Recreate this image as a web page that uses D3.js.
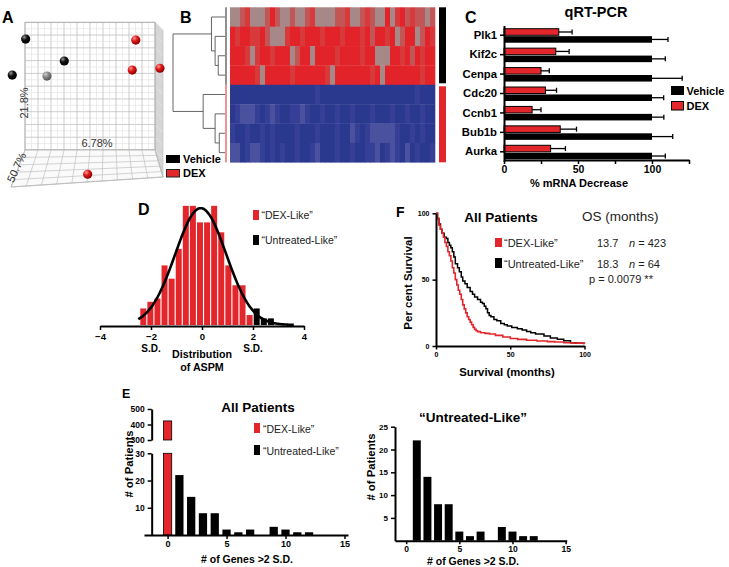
<!DOCTYPE html>
<html><head><meta charset="utf-8">
<script src="https://cdn.jsdelivr.net/npm/d3@7"></script>
<style>body{margin:0;background:#fff}svg{display:block}</style>
</head><body><svg id="c" width="729" height="567"></svg>
<script>
// ---------------- DATA ----------------
// Panel A: PCA samples (position on PC axes, in grid units of the box)
const pcaGroup = ["Vehicle","Vehicle","Vehicle","Vehicle","DEX","DEX","DEX","DEX"];
const pcaPC1   = [0.05, -0.98, 1.69, 3.02, 8.52, 8.25, 10.38, 4.82];
const pcaPC2   = [8.69, 5.87, 5.79, 6.97, 8.61, 6.26, 6.40, -1.90];
const pcaDepth = [0, 0, 1, 0, 0, 0, 0, 0];
const pcaLabels = ["21.8%", "6.78%", "50.7%"];
// Panel B: heatmap rows (intensity levels per gene column), row groups, dendrogram merges
const heatGroups = ["Vehicle","Vehicle","Vehicle","Vehicle","DEX","DEX","DEX","DEX"];
const heatRows = [
  "33213332023323321333322133212330310212232",
  "01001102333100100010001000102001032003201",
  "00013100100032003000010000100333001020100",
  "00000130000010000001300000001030000000100",
  "00000000000000000100000000000000000001000",
  "01222101210011210010010010001000100100100",
  "10010010100001000100010021012222210010100",
  "22012210101001001200010010011201210201001"
];
const dendroMerges = [[2,3,1.3],[1,8,1.9],[0,9,2.6],[6,7,1.1],[5,11,1.9],[4,12,4.2],[10,13,10]];
// Panel C: qRT-PCR
const genes = ["Plk1","Kif2c","Cenpa","Cdc20","Ccnb1","Bub1b","Aurka"];
const dexValues = [37, 35, 25, 28, 19, 38, 31.5];
const dexErrors = [9, 9, 5.6, 7.5, 6, 11, 10];
const vehValues = [100, 100, 100, 100, 100, 100, 100];
const vehErrors = [10.8, 9, 20.4, 7.9, 8, 14, 9];
const pcrTicks = [0, 50, 100];
// Panel D: ASPM distribution histogram
const aspmBinStart = -2.44, aspmBinWidth = 0.278;
const aspmCounts = [5,7,8,18,14,23,36,36,31,31,36,28,18,12,12,3,5,2,2];
const aspmFit = {mean: -0.05, sd: 1.0, peak: 35.3, from: -2.5, to: 3.6};
const aspmTicks = [-4,-2,0,2,4];
// Panel F: Kaplan-Meier
const dexT = [0,1,2,3,4,5,6,7,8,9,10,11,12,13,14,15,16,17,18,19,20,21,22,23,24,25,26,27,28,30,33,36,40,45,50,55,61,68,75,80,86,92,100];
const dexS = [100,96,91,88,85,82,78,75,71,68,64,59,55,50,46,42,39,35,31,28,25,22,20,18,16,14,12.5,11.5,10.8,10,9.5,9,8,6.8,5.6,5,4.3,3.8,3.3,3,2.5,2.2,1.8];
const untT = [0,1,2,3,4,5.5,7,8,9,10,11,12,13,14.5,15.7,17,18,19.5,21,23,24.6,26,28,30,31.3,32.5,33.6,34.7,35.8,37,39,41,43.6,46,48,51,54.8,58,61,63.8,67,72.7,77,81.7,86,90.6,95,99.5];
const untS = [100,96,92,88,85,82,81,78,76,74,71,67,62,59,56,52,49,47,44,41,39,37,35,33,32,30,28,25,23,22,20,19,17,16,15,14,13,12,11,10,9,7.6,6,5,4,2.5,2,1.3];
const osMonths = [13.7, 18.3];
const osN = [423, 64];
const pValue = "0.0079";
// Panel E: number of genes >2 S.D. per patient
const genesOver = [0,1,2,3,4,5,6,7,8,9,10,11,12];
const patientCounts = [423,22,14,8,8,2,1,2,0,3,2,1,1];

// ---------------- DRAW ----------------
const FONT = '"Liberation Sans", Arial, Helvetica, sans-serif';
const RED = "#e2262b";
const svg = d3.select("#c");
svg.append("rect").attr("width",729).attr("height",567).attr("fill","#fff");
const defs = svg.append("defs");

function txt(g, s, x, y, o) {
  o = o || {};
  const t = g.append("text").attr("x",x).attr("y",y).text(s)
    .attr("font-family",FONT).attr("font-size",o.size||11)
    .attr("font-weight",o.bold?"bold":"normal").attr("fill",o.fill||"#111")
    .attr("text-anchor",o.anchor||"start");
  if (o.rotate!==undefined) t.attr("transform",`rotate(${o.rotate},${x},${y})`);
  return t;
}
function styleAxis(g, fs, sw) {
  g.selectAll("path.domain").attr("stroke","#000").attr("stroke-width",sw||2);
  g.selectAll(".tick line").attr("stroke","#000").attr("stroke-width",1.5);
  g.selectAll(".tick text").attr("font-family",FONT).attr("font-weight","bold")
    .attr("font-size",fs).attr("fill","#000");
}
function letter(s,x,y,size){ txt(svg,s,x,y,{size:size||16,bold:true,fill:"#000"}); }

// ===== Panel A =====
(function(){
  const g = svg.append("g");
  const wx = d3.scaleLinear([0,10],[25,155]);
  const wy = d3.scaleLinear([0,10],[150,22.3]);
  const depthOff = 8;
  const fl = [11,187], fr = [163,177];
  g.append("path").attr("d",`M${wx(10)},${wy(10)}L${wx(10)+depthOff},${wy(10)+depthOff}L${fr[0]},${fr[1]}L${wx(10)},${wy(0)}Z`)
    .attr("fill","#d6d6d6").attr("stroke","#bbb").attr("stroke-width",0.6);
  for (let v=0; v<=10; v+=1) {
    g.append("line").attr("x1",wx(10)).attr("x2",wx(10)+depthOff).attr("y1",wy(v)).attr("y2",wy(v)+depthOff)
      .attr("stroke","#eee").attr("stroke-width",0.5);
  }
  g.append("rect").attr("x",wx(0)).attr("y",wy(10)).attr("width",wx(10)-wx(0)).attr("height",wy(0)-wy(10)).attr("fill","#fff");
  for (let v=0; v<=10.001; v+=0.5) {
    const major = Math.abs(v-Math.round(v))<0.01;
    g.append("line").attr("x1",wx(v)).attr("x2",wx(v)).attr("y1",wy(0)).attr("y2",wy(10))
      .attr("stroke",major?"#c0c0c0":"#e0e0e0").attr("stroke-width",major?0.8:0.6);
    g.append("line").attr("x1",wx(0)).attr("x2",wx(10)).attr("y1",wy(v)).attr("y2",wy(v))
      .attr("stroke",major?"#c0c0c0":"#e0e0e0").attr("stroke-width",major?0.8:0.6);
  }
  g.append("rect").attr("x",wx(0)).attr("y",wy(10)).attr("width",wx(10)-wx(0)).attr("height",wy(0)-wy(10))
    .attr("fill","none").attr("stroke","#aaa").attr("stroke-width",0.8);
  const bl=[wx(0),wy(0)], br=[wx(10),wy(0)];
  const lerp=(a,b,t)=>[a[0]+(b[0]-a[0])*t, a[1]+(b[1]-a[1])*t];
  g.append("path").attr("d",`M${bl}L${br}L${fr}L${fl}Z`).attr("fill","#fafafa").attr("stroke","#aaa").attr("stroke-width",0.8);
  for (let i=0;i<=10;i++){
    const p=lerp(fl,fr,i/10);
    g.append("line").attr("x1",wx(i)).attr("y1",wy(0)).attr("x2",p[0]).attr("y2",p[1]).attr("stroke","#c0c0c0").attr("stroke-width",0.7);
  }
  for (let t=0.2;t<=1.001;t+=0.2){
    const a=lerp(bl,fl,t), b=lerp(br,fr,t);
    g.append("line").attr("x1",a[0]).attr("y1",a[1]).attr("x2",b[0]).attr("y2",b[1]).attr("stroke","#c0c0c0").attr("stroke-width",0.7);
  }
  const grads = {black:["#9a9a9a","#111","#000"], gray:["#d0d0d0","#8a8a8a","#555"], red:["#ff9a9a","#e01a1a","#8a0000"]};
  Object.entries(grads).forEach(([k,c])=>{
    const rg = defs.append("radialGradient").attr("id","sph-"+k).attr("cx","35%").attr("cy","30%").attr("r","70%");
    rg.append("stop").attr("offset","0%").attr("stop-color",c[0]);
    rg.append("stop").attr("offset","45%").attr("stop-color",c[1]);
    rg.append("stop").attr("offset","100%").attr("stop-color",c[2]);
  });
  pcaPC1.forEach((v,i)=>{
    const key = pcaGroup[i]==="DEX" ? "red" : (pcaDepth[i]>0 ? "gray" : "black");
    g.append("circle").attr("cx",wx(v)).attr("cy",wy(pcaPC2[i])).attr("r",4.6).attr("fill",`url(#sph-${key})`);
  });
  txt(g,pcaLabels[0],27.5,103,{size:11,fill:"#333",anchor:"middle",rotate:-90});
  txt(g,pcaLabels[1],97,147,{size:11,fill:"#333",anchor:"middle"});
  txt(g,pcaLabels[2],20,169,{size:11,fill:"#333",anchor:"middle",rotate:-65});
  letter("A",2,23);
})();

// ===== Panel B =====
(function(){
  const g = svg.append("g");
  const nCols = heatRows[0].length;
  const xH = d3.scaleBand(d3.range(nCols),[230,435]);
  const yH = d3.scaleBand(d3.range(heatRows.length),[7.3,162.3]);
  const redC = d3.scaleOrdinal([0,1,2,3],["#e3232a","#d8393a","#c25656","#a68888"]);
  const blueC = d3.scaleOrdinal([0,1,2],["#2a388d","#343f95","#4a519f"]);
  heatRows.forEach((row,r)=>{
    row.split("").forEach((ch,c)=>{
      const v=+ch;
      g.append("rect").attr("x",xH(c)).attr("y",yH(r)).attr("width",xH.bandwidth()+0.3).attr("height",yH.bandwidth()+0.3)
        .attr("fill", heatGroups[r]==="Vehicle"?redC(v):blueC(v));
    });
  });
  ["Vehicle","DEX"].forEach(gr=>{
    const idx = heatGroups.map((d,i)=>d===gr?i:-1).filter(i=>i>=0);
    const y0 = yH(idx[0]), y1 = yH(idx[idx.length-1])+yH.bandwidth();
    g.append("rect").attr("x",439).attr("y",y0+(gr==="DEX"?1.5:0)).attr("width",7).attr("height",y1-y0-1.5)
      .attr("fill",gr==="Vehicle"?"#000":RED);
    g.append("line").attr("x1",226).attr("x2",226).attr("y1",y0).attr("y2",y1)
      .attr("stroke",gr==="Vehicle"?"#222":RED).attr("stroke-width",1);
  });
  const xD = d3.scaleLinear([0,10],[225,173]);
  const nodes = heatRows.map((_,i)=>({x:xD(0), y:yH(i)+yH.bandwidth()/2}));
  dendroMerges.forEach(([a,b,h])=>{
    const A=nodes[a], B=nodes[b], x=xD(h);
    g.append("path").attr("d",`M${A.x},${A.y}H${x}V${B.y}H${B.x}`).attr("fill","none").attr("stroke","#555").attr("stroke-width",0.9);
    nodes.push({x:x, y:(A.y+B.y)/2});
  });
  letter("B",180,23);
  g.append("rect").attr("x",166).attr("y",155).attr("width",14).attr("height",8).attr("fill","#000");
  g.append("rect").attr("x",166.5).attr("y",169.5).attr("width",13).attr("height",7.5).attr("fill",RED).attr("stroke","#222").attr("stroke-width",1);
  txt(g,"Vehicle",183,163.3,{size:11,bold:true,fill:"#000"});
  txt(g,"DEX",183,177,{size:11,bold:true,fill:"#000"});
})();

// ===== Panel C =====
(function(){
  const g = svg.append("g");
  const x = d3.scaleLinear([0,125],[504,689]);
  const y = d3.scaleBand(genes,[25.5,161.5]);
  const sub = d3.scaleBand(["DEX","Vehicle"],[-6.5,7.5]).paddingInner(0.12);
  const series = [{k:"DEX",v:dexValues,e:dexErrors,fill:RED},{k:"Vehicle",v:vehValues,e:vehErrors,fill:"#000"}];
  series.forEach(s=>{
    genes.forEach((gn,i)=>{
      const cy = y(gn)+y.bandwidth()/2;
      const y0 = cy+sub(s.k), h=sub.bandwidth();
      g.append("line").attr("x1",x(s.v[i])).attr("x2",x(s.v[i]+s.e[i])).attr("y1",y0+h/2).attr("y2",y0+h/2).attr("stroke","#000").attr("stroke-width",1.3);
      g.append("line").attr("x1",x(s.v[i]+s.e[i])).attr("x2",x(s.v[i]+s.e[i])).attr("y1",y0+h/2-2.5).attr("y2",y0+h/2+2.5).attr("stroke","#000").attr("stroke-width",1.3);
      g.append("rect").attr("x",x(0)).attr("y",y0).attr("width",x(s.v[i])-x(0)).attr("height",h)
        .attr("fill",s.fill).attr("stroke","#000").attr("stroke-width",s.k==="DEX"?1:0);
    });
  });
  const ax = g.append("g").attr("transform","translate(0,160)")
    .call(d3.axisBottom(x).tickValues([0,25,50,75,100,125]).tickSize(4).tickSizeOuter(0).tickPadding(2).tickFormat(d=>pcrTicks.includes(d)?d:""));
  styleAxis(ax,10.5);
  const ay = g.append("g").attr("transform",`translate(${x(0)},0)`).call(d3.axisLeft(y).tickSize(4).tickSizeOuter(0));
  styleAxis(ay,11.3);
  txt(g,"qRT-PCR",596,17,{size:14.5,bold:true,fill:"#000",anchor:"middle"});
  txt(g,"% mRNA Decrease",579,186.5,{size:11,bold:true,fill:"#000",anchor:"middle"});
  g.append("rect").attr("x",671).attr("y",86).attr("width",13).attr("height",9).attr("fill","#000");
  g.append("rect").attr("x",671.5).attr("y",101.5).attr("width",12).attr("height",8.5).attr("fill",RED).attr("stroke","#000").attr("stroke-width",1);
  txt(g,"Vehicle",686.5,95,{size:11,bold:true,fill:"#000"});
  txt(g,"DEX",686.5,110,{size:11,bold:true,fill:"#000"});
  letter("C",465,23);
})();

// ===== Panel D =====
(function(){
  const g = svg.append("g");
  const x = d3.scaleLinear([-4,4],[100,304]);
  const y = d3.scaleLinear([0,40],[325,192.6]);
  aspmCounts.forEach((c,i)=>{
    const a = aspmBinStart + i*aspmBinWidth;
    g.append("rect").attr("x",x(a)+0.5).attr("width",x(a+aspmBinWidth)-x(a)-1.1)
      .attr("y",y(c)).attr("height",y(0)-y(c)).attr("fill", a>=2-1e-6 ? "#000" : RED);
  });
  const pts = d3.range(aspmFit.from, aspmFit.to+0.001, 0.05).map(v=>[v, aspmFit.peak*Math.exp(-0.5*((v-aspmFit.mean)/aspmFit.sd)**2)]);
  g.append("path").attr("d",d3.line().x(d=>x(d[0])).y(d=>y(d[1])).curve(d3.curveBasis)(pts))
    .attr("fill","none").attr("stroke","#000").attr("stroke-width",2.6);
  const ax = g.append("g").attr("transform","translate(0,326)").call(d3.axisBottom(x).tickValues(aspmTicks).tickSize(4).tickSizeOuter(0));
  styleAxis(ax,9.5,2.2);
  txt(g,"S.D.",x(-2),351.7,{size:10,bold:true,fill:"#000",anchor:"middle"});
  txt(g,"S.D.",x(2),351.7,{size:10,bold:true,fill:"#000",anchor:"middle"});
  txt(g,"Distribution",x(0),358.3,{size:10.7,bold:true,fill:"#000",anchor:"middle"});
  txt(g,"of ASPM",x(0),371,{size:10.7,bold:true,fill:"#000",anchor:"middle"});
  g.append("rect").attr("x",253).attr("y",210).attr("width",6).attr("height",10).attr("fill",RED);
  g.append("rect").attr("x",253).attr("y",235).attr("width",6).attr("height",10).attr("fill","#000");
  txt(g,"\u201CDEX-Like\u201D",261.5,219,{size:10.5,fill:"#222"});
  txt(g,"\u201CUntreated-Like\u201D",261.5,244,{size:10.5,fill:"#222"});
  letter("D",138,215);
})();

// ===== Panel F =====
(function(){
  const g = svg.append("g");
  const x = d3.scaleLinear([0,100],[436,584.5]);
  const y = d3.scaleLinear([0,100],[346,213.3]);
  const line = d3.line().x(d=>x(d[0])).y(d=>y(d[1])).curve(d3.curveStepAfter);
  g.append("path").attr("d",line(untT.map((t,i)=>[t,untS[i]]))).attr("fill","none").attr("stroke","#000").attr("stroke-width",1.5);
  g.append("path").attr("d",line(dexT.map((t,i)=>[t,dexS[i]]))).attr("fill","none").attr("stroke",RED).attr("stroke-width",1.6);
  const ax = g.append("g").attr("transform","translate(0,346)").call(d3.axisBottom(x).tickValues([0,50,100]).tickSize(3.5).tickSizeOuter(0));
  styleAxis(ax,7,2);
  const ay = g.append("g").attr("transform","translate(436,0)").call(d3.axisLeft(y).tickValues([0,50,100]).tickSize(3.5).tickSizeOuter(0));
  styleAxis(ay,7,2);
  txt(g,"Per cent Survival",412,283,{size:11.5,bold:true,fill:"#000",anchor:"middle",rotate:-90});
  txt(g,"Survival (months)",507,376,{size:11.3,bold:true,fill:"#000",anchor:"middle"});
  txt(g,"All Patients",501,222,{size:13.5,bold:true,fill:"#000",anchor:"middle"});
  txt(g,"OS (months)",582,221,{size:13.5,fill:"#222"});
  g.append("rect").attr("x",495).attr("y",238).attr("width",7).attr("height",9).attr("fill",RED);
  g.append("rect").attr("x",495).attr("y",258).attr("width",7).attr("height",10).attr("fill","#000");
  txt(g,"\u201CDEX-Like\u201D",504,246.7,{size:11,fill:"#222"});
  txt(g,"\u201CUntreated-Like\u201D",504,268,{size:11,fill:"#222"});
  [0,1].forEach(i=>{
    const yy = i===0?246.7:268;
    txt(g,String(osMonths[i]),597,yy,{size:11,fill:"#222"});
    const t = g.append("text").attr("x",629).attr("y",yy).attr("font-family",FONT).attr("font-size",11).attr("fill","#222");
    t.append("tspan").attr("font-style","italic").text("n");
    t.append("tspan").text(" = "+osN[i]);
  });
  txt(g,"p = "+pValue+" **",589,283,{size:11,fill:"#222"});
  letter("F",396,217,14);
})();

// ===== Panel E (left) =====
(function(){
  const g = svg.append("g");
  const x = d3.scaleLinear([-2,15.3],[144,348]);
  const yLo = d3.scaleLinear([0,30],[535,453.3]);
  const yHi = d3.scaleLinear([300,500],[440,409]);
  const bw = x(0.7)-x(0);
  genesOver.forEach((k,i)=>{
    const c = patientCounts[i]; if (!c) return;
    const fill = k===0 ? RED : "#000";
    const top = Math.min(c,30);
    g.append("rect").attr("x",x(k)-bw/2).attr("width",bw).attr("y",yLo(top)).attr("height",yLo(0)-yLo(top))
      .attr("fill",fill).attr("stroke","#000").attr("stroke-width",k===0?0.8:0);
    if (c>300) g.append("rect").attr("x",x(k)-bw/2).attr("width",bw).attr("y",yHi(c)).attr("height",yHi(300)-yHi(c))
      .attr("fill",fill).attr("stroke","#000").attr("stroke-width",0.8);
  });
  const ax = g.append("g").attr("transform","translate(0,535)").call(d3.axisBottom(x).tickValues([0,5,10,15]).tickSize(4).tickSizeOuter(0).tickPadding(2));
  styleAxis(ax,9,2);
  const yx = x(-1.35);
  const a1 = g.append("g").attr("transform",`translate(${yx},0)`).call(d3.axisLeft(yLo).tickValues([10,20,30]).tickSize(4).tickSizeOuter(0));
  styleAxis(a1,8.5,2);
  const a2 = g.append("g").attr("transform",`translate(${yx},0)`).call(d3.axisLeft(yHi).tickValues([300,400,500]).tickSize(4).tickSizeOuter(0));
  styleAxis(a2,8.5,2);
  txt(g,"# of Patients",133,464,{size:11.3,bold:true,fill:"#000",anchor:"middle",rotate:-90});
  txt(g,"# of Genes >2 S.D.",247,563,{size:10.5,bold:true,fill:"#000",anchor:"middle"});
  txt(g,"All Patients",258,412.3,{size:13.5,bold:true,fill:"#000",anchor:"middle"});
  g.append("rect").attr("x",254).attr("y",423).attr("width",6).attr("height",10).attr("fill",RED);
  g.append("rect").attr("x",254).attr("y",445).attr("width",6).attr("height",10).attr("fill","#000");
  txt(g,"\u201CDEX-Like\u201D",263,433,{size:10.5,fill:"#222"});
  txt(g,"\u201CUntreated-Like\u201D",263,455,{size:10.5,fill:"#222"});
  letter("E",122,398,12.5);
})();

// ===== Panel E (right) =====
(function(){
  const g = svg.append("g");
  const x = d3.scaleLinear([-1.05,15.1],[395,566.7]);
  const y = d3.scaleLinear([0,25],[540.7,426.7]);
  const bw = x(0.75)-x(0);
  genesOver.forEach((k,i)=>{
    if (k===0) return;
    const c = patientCounts[i]; if (!c) return;
    g.append("rect").attr("x",x(k)-bw/2).attr("width",bw).attr("y",y(c)).attr("height",y(0)-y(c)).attr("fill","#000");
  });
  const ax = g.append("g").attr("transform","translate(0,540.7)").call(d3.axisBottom(x).tickValues([0,5,10,15]).tickSize(3.5).tickSizeOuter(0).tickPadding(1.5));
  styleAxis(ax,8.5,2);
  const ay = g.append("g").attr("transform","translate(395,0)").call(d3.axisLeft(y).tickValues([5,10,15,20,25]).tickSize(4).tickSizeOuter(0));
  styleAxis(ay,8,2);
  txt(g,"# of Patients",375,467,{size:11.3,bold:true,fill:"#000",anchor:"middle",rotate:-90});
  txt(g,"# of Genes >2 S.D.",473,564.5,{size:10.5,bold:true,fill:"#000",anchor:"middle"});
  txt(g,"\u201CUntreated-Like\u201D",473,422.3,{size:13.5,bold:true,fill:"#000",anchor:"middle"});
})();
</script></body></html>
